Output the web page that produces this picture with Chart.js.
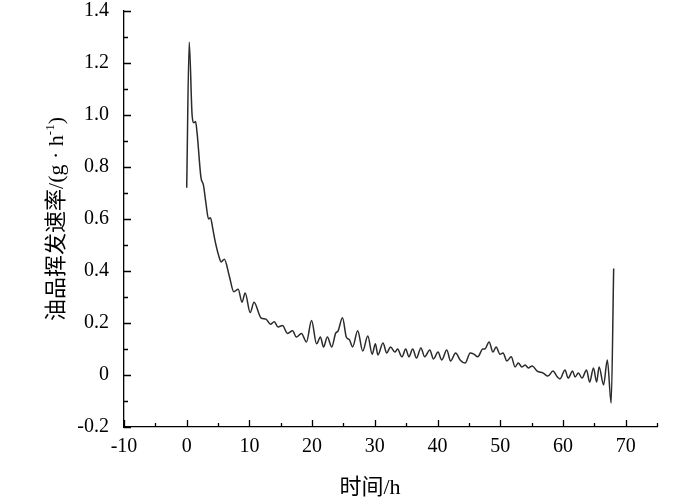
<!DOCTYPE html>
<html>
<head>
<meta charset="utf-8">
<script src="https://cdn.jsdelivr.net/npm/chart.js@4/dist/chart.umd.min.js"></script>
<style>
  html, body { margin: 0; padding: 0; background: #fff; }
  #wrap { width: 700px; height: 501px; position: relative; }
</style>
</head>
<body>
<div id="wrap"><canvas id="c" width="700" height="501"></canvas></div>
<script>
// ---- data ----
const times = [
  0, 0.4, 0.86, 1.16, 1.41, 1.66, 2.27, 2.67, 3.07, 3.48, 3.78, 4.18, 4.49, 5.09, 5.49, 6.0,
  6.8, 7.51, 8.21, 8.82, 9.32, 10.13, 10.73, 11.84, 12.65, 13.36, 13.96, 14.57, 15.27, 16.08,
  16.88, 17.49, 18.3, 19.1, 19.91, 20.71, 21.32, 21.82, 22.43, 23.13, 23.74, 24.14, 24.85,
  25.45, 25.96, 26.46, 27.27, 28.07, 28.88, 29.58, 30.09, 30.49, 31.3, 31.9, 32.51, 33.21,
  33.62, 34.32, 34.93, 35.43, 36.04, 36.64, 37.35, 37.95, 38.76, 39.36, 40.07, 40.67, 41.48,
  42.08, 42.89, 43.6, 44.4, 45.21, 45.81, 46.42, 47.22, 47.53, 48.23, 48.84, 49.34, 49.95,
  50.45, 51.06, 51.76, 52.37, 52.87, 53.47, 53.98, 54.48, 55.09, 55.89, 56.8, 57.61, 58.41,
  59.12, 59.52, 60.33, 60.83, 61.54, 61.94, 62.45, 63.05, 63.76, 64.26, 64.87, 65.37, 65.77,
  66.48, 67.08, 67.69, 68.09
];
const rates = [
  0.72, 1.28, 1.00, 0.97, 0.975, 0.93, 0.76, 0.73, 0.66, 0.60, 0.605, 0.56, 0.52, 0.46, 0.435, 0.445,
  0.38, 0.32, 0.33, 0.28, 0.315, 0.24, 0.28, 0.22, 0.215, 0.195, 0.205, 0.185, 0.19, 0.16,
  0.17, 0.146, 0.16, 0.127, 0.21, 0.12, 0.146, 0.108, 0.146, 0.108, 0.16, 0.17, 0.22,
  0.146, 0.135, 0.108, 0.17, 0.092, 0.15, 0.08, 0.12, 0.077, 0.123, 0.085, 0.108, 0.088,
  0.10, 0.07, 0.10, 0.07, 0.10, 0.065, 0.104, 0.07, 0.096, 0.062, 0.088, 0.058, 0.096,
  0.054, 0.085, 0.058, 0.046, 0.085, 0.08, 0.07, 0.10, 0.10, 0.127, 0.088, 0.108, 0.08,
  0.085, 0.054, 0.07, 0.031, 0.046, 0.031, 0.038, 0.027, 0.035, 0.015, 0.008, -0.004, 0.015,
  -0.008, -0.015, 0.019, -0.012, 0.015, -0.008, 0.008, -0.012, 0.019, -0.027, 0.027, -0.027, 0.031,
  -0.038, 0.058, -0.108, 0.41
];
const xTickLabels = ['-10', '0', '10', '20', '30', '40', '50', '60', '70'];
const yTickLabels = ['-0.2', '0', '0.2', '0.4', '0.6', '0.8', '1.0', '1.2', '1.4'];
const xTitle = '时间/h';
const yTitleMain = '油品挥发速率/(g · h';
const yTitleSup = '-1';
const yTitleEnd = ')';

const points = times.map((t, i) => ({ x: t, y: rates[i] }));

const SERIF = "'Liberation Serif', 'Noto Sans CJK SC', serif";

// inward ticks + axis titles
const axisDecor = {
  id: 'axisDecor',
  afterDraw(chart) {
    const ctx = chart.ctx;
    const a = chart.chartArea;
    const xs = chart.scales.x, ys = chart.scales.y;
    ctx.save();
    ctx.strokeStyle = '#000';
    ctx.lineWidth = 1.3;
    ctx.beginPath();
    xs.ticks.forEach(t => {
      const px = Math.round(xs.getPixelForValue(t.value)) + 0.5;
      const len = (Math.round(t.value) % 10 === 0) ? 7 : 4;
      ctx.moveTo(px, a.bottom);
      ctx.lineTo(px, a.bottom - len);
    });
    ys.ticks.forEach(t => {
      const py = Math.round(ys.getPixelForValue(t.value)) + 0.5;
      const len = (Math.round(t.value * 10) % 2 === 0) ? 7 : 4;
      ctx.moveTo(a.left, py);
      ctx.lineTo(a.left + len, py);
    });
    ctx.stroke();

    // x title
    ctx.fillStyle = '#000';
    ctx.font = "22px " + SERIF;
    ctx.textAlign = 'center';
    ctx.textBaseline = 'middle';
    ctx.fillText(xTitle, 370, 488);

    // y title (rotated), with superscript
    ctx.translate(55, 219);
    ctx.rotate(-Math.PI / 2);
    ctx.textAlign = 'left';
    ctx.textBaseline = 'alphabetic';
    const mainFont = "22px " + SERIF;
    const supFont = "13px " + SERIF;
    ctx.font = mainFont;
    const w1 = ctx.measureText(yTitleMain).width;
    const w3 = ctx.measureText(yTitleEnd).width;
    ctx.font = supFont;
    const w2 = ctx.measureText(yTitleSup).width;
    const total = w1 + w2 + w3;
    let x0 = -total / 2;
    const base = 8;
    ctx.font = mainFont;
    ctx.fillText(yTitleMain, x0, base);
    ctx.font = supFont;
    ctx.fillText(yTitleSup, x0 + w1, base - 9);
    ctx.font = mainFont;
    ctx.fillText(yTitleEnd, x0 + w1 + w2, base);
    ctx.restore();
  }
};

new Chart(document.getElementById('c'), {
  type: 'line',
  data: {
    datasets: [{
      data: points,
      borderColor: '#2b2b2b',
      borderWidth: 1.5,
      pointRadius: 0,
      fill: false,
      cubicInterpolationMode: 'monotone'
    }]
  },
  options: {
    responsive: false,
    animation: false,
    devicePixelRatio: 1,
    layout: { padding: { left: 0, right: 43, top: 11, bottom: 0 } },
    plugins: { legend: { display: false }, tooltip: { enabled: false } },
    scales: {
      x: {
        type: 'linear',
        min: -10, max: 75,
        grid: { display: false },
        border: { display: true, color: '#000', width: 1.3 },
        ticks: {
          stepSize: 5,
          autoSkip: false,
          maxRotation: 0,
          padding: 0,
          color: '#000',
          font: { family: SERIF, size: 20 },
          callback: v => {
            const s = String(Math.round(v));
            return (Math.round(v) % 10 === 0 && xTickLabels.includes(s)) ? s : '';
          }
        },
        afterFit: s => { s.height = 74; s.paddingLeft = 0; s.paddingRight = 0; }
      },
      y: {
        type: 'linear',
        min: -0.2, max: 1.4,
        grid: { display: false },
        border: { display: true, color: '#000', width: 1.3 },
        ticks: {
          stepSize: 0.1,
          autoSkip: false,
          padding: 7,
          color: '#000',
          font: { family: SERIF, size: 20 },
          callback: v => {
            const k = Math.round(v * 10);
            if (k % 2 !== 0) return '';
            const idx = (k + 2) / 2;
            return yTickLabels[idx] !== undefined ? yTickLabels[idx] : '';
          }
        },
        afterFit: s => { s.width = 124; s.paddingTop = 0; s.paddingBottom = 0; }
      }
    }
  },
  plugins: [axisDecor]
});
</script>
</body>
</html>
